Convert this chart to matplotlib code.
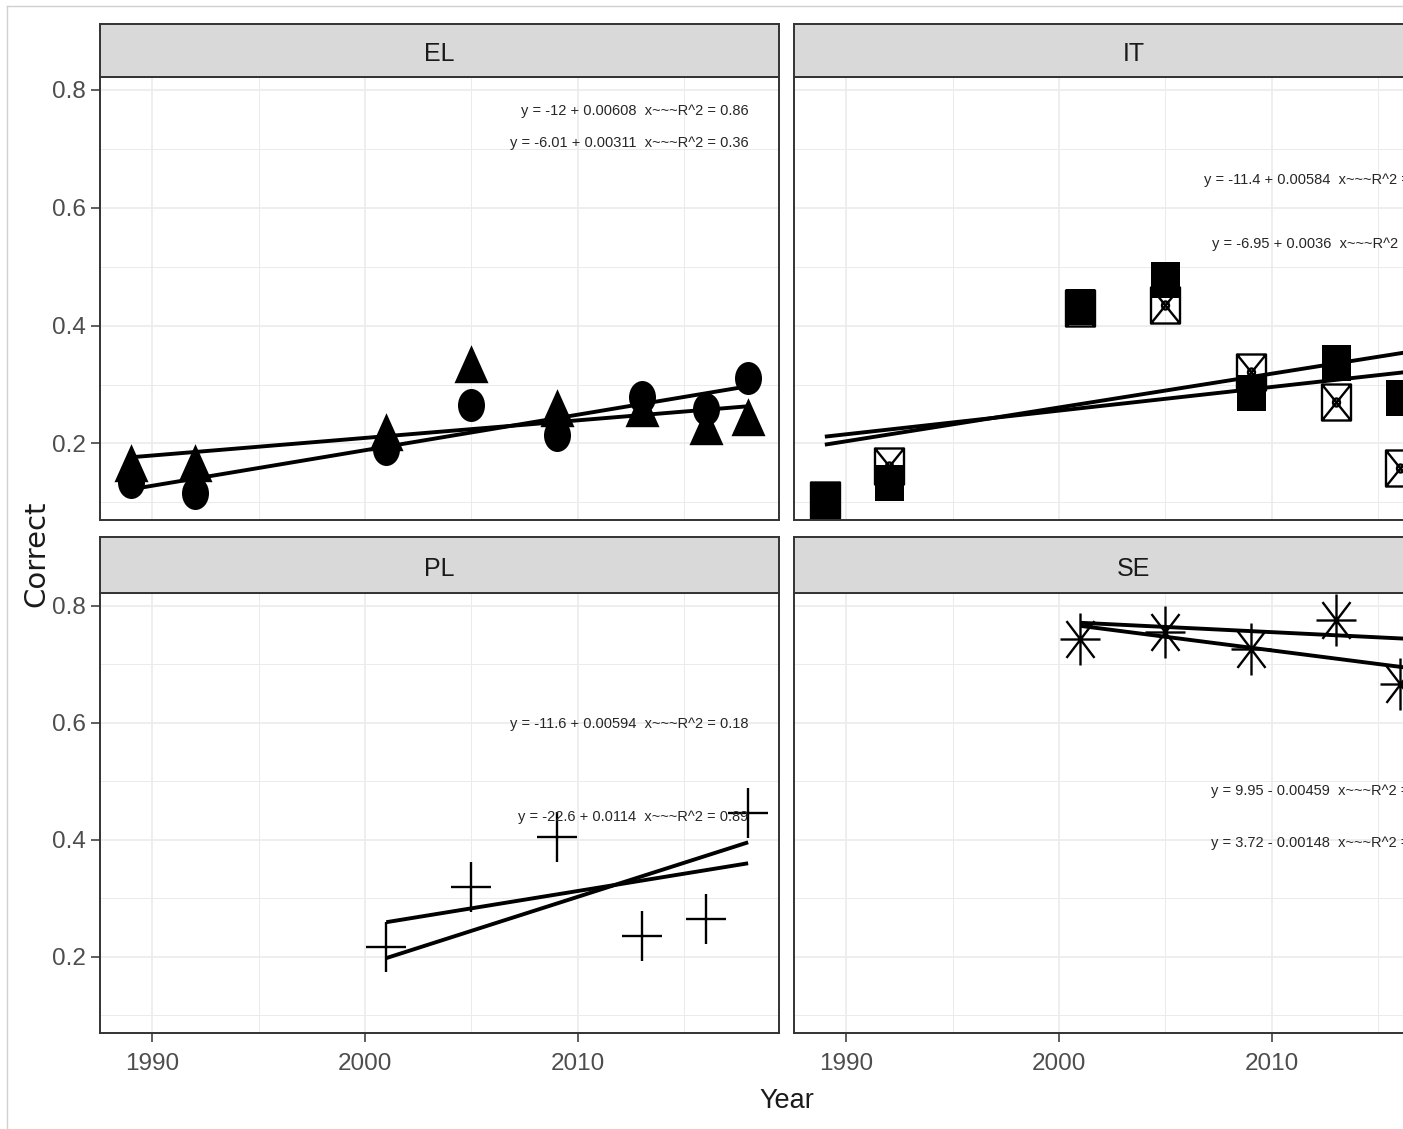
import matplotlib
matplotlib.use("Agg")
import matplotlib.pyplot as plt
import numpy as np
from matplotlib.path import Path
from matplotlib.transforms import Affine2D
from matplotlib.lines import Line2D
from matplotlib.ticker import MultipleLocator, FormatStrFormatter

plt.rcParams['font.family'] = ['Liberation Sans', 'DejaVu Sans']

W, H, DPI = 1403, 1129, 100

# ---- data ----
years_long = [1989, 1992, 2001, 2005, 2009, 2013, 2016, 2018]
years_short = [2001, 2005, 2009, 2013, 2016, 2018]

el_circle = [0.135, 0.115, 0.19, 0.265, 0.215, 0.278, 0.258, 0.311]
el_triangle = [0.157, 0.156, 0.21, 0.325, 0.25, 0.25, 0.22, 0.235]

it_square = [0.104, 0.133, 0.432, 0.478, 0.285, 0.336, 0.277, 0.29]
it_boxed = [0.104, 0.162, 0.43, 0.435, 0.321, 0.27, 0.159, 0.337]

pl_plus = [0.217, 0.32, 0.405, 0.235, 0.265, 0.446]
pl_hidden = [0.19, 0.26, 0.29, 0.32, 0.39, 0.39]

se_star = [0.744, 0.756, 0.727, 0.776, 0.666, 0.665]
se_hidden = [0.775, 0.755, 0.765, 0.745, 0.745, 0.742]

el_labels = ["y = -12 + 0.00608  x~~~R^2 = 0.86", "y = -6.01 + 0.00311  x~~~R^2 = 0.36"]
it_labels = ["y = -11.4 + 0.00584  x~~~R^2 = 0.22", "y = -6.95 + 0.0036  x~~~R^2 = 0.11"]
pl_labels = ["y = -11.6 + 0.00594  x~~~R^2 = 0.18", "y = -22.6 + 0.0114  x~~~R^2 = 0.89"]
se_labels = ["y = 9.95 - 0.00459  x~~~R^2 = 0.52", "y = 3.72 - 0.00148  x~~~R^2 = 0.61"]


# ---- marker shapes (pixel units, the picture is stretched vertically) ----
M, L, C = Path.MOVETO, Path.LINETO, Path.CLOSEPOLY

def marker(path):
    r = np.abs(path.vertices).max()
    return path, 2 * r * 72 / DPI

circle_m = marker(Path.unit_circle().transformed(Affine2D().scale(13.5, 16.5)))
tri_m = marker(Path([(0, 25.3), (17, -12.7), (-17, -12.7), (0, 25.3)], [M, L, L, C]))
sq = [(-14.5, -18), (14.5, -18), (14.5, 18), (-14.5, 18), (-14.5, -18)]
square_m = marker(Path(sq, [M, L, L, L, C]))
boxed_m = marker(Path.make_compound_path(
    Path(sq, [M, L, L, L, C]),
    Path([(-14.5, -18), (14.5, 18)], [M, L]),
    Path([(-14.5, 18), (14.5, -18)], [M, L]),
    Path.unit_circle().transformed(Affine2D().scale(3.5, 4)),
))
plus_m = marker(Path([(-20, 0), (20, 0), (0, -25), (0, 25)], [M, L, M, L]))
star_m = marker(Path([(-20, 0), (20, 0), (0, -26), (0, 26),
                      (-14, -18.4), (14, 18.4), (-14, 18.4), (14, -18.4)],
                     [M, L, M, L, M, L, M, L]))

fig = plt.figure(figsize=(W / DPI, H / DPI), dpi=DPI)
fig.patch.set_facecolor('white')


def rect(x0, y0, x1, y1):
    return [x0 / W, 1 - y1 / H, (x1 - x0) / W, (y1 - y0) / H]


def panel(x0, y0, x1, y1, s0, name, left, bottom):
    ax = fig.add_axes(rect(x0, y0, x1, y1))
    ax.set_xlim(1987.55, 2019.45)
    ax.set_ylim(0.070, 0.822)
    ax.xaxis.set_major_locator(MultipleLocator(10))
    ax.xaxis.set_minor_locator(MultipleLocator(5))
    ax.yaxis.set_major_locator(MultipleLocator(0.2))
    ax.yaxis.set_minor_locator(MultipleLocator(0.1))
    ax.yaxis.set_major_formatter(FormatStrFormatter('%.1f'))
    ax.grid(which='major', color='#EBEBEB', linewidth=1.2)
    ax.grid(which='minor', color='#EBEBEB', linewidth=0.7)
    ax.set_axisbelow(True)
    for sp in ax.spines.values():
        sp.set_color('#333333')
        sp.set_linewidth(1.4)
    ax.tick_params(which='minor', length=0)
    ax.tick_params(which='major', length=6.5, width=1.1, color='#333333',
                   labelcolor='#4D4D4D', labelsize=17.5)
    ax.tick_params(axis='y', pad=4, left=left, labelleft=left)
    ax.tick_params(axis='x', pad=8, bottom=bottom, labelbottom=bottom)

    st = fig.add_axes(rect(x0, s0, x1, y0))
    st.set_facecolor('#D9D9D9')
    st.set_xticks([])
    st.set_yticks([])
    for sp in st.spines.values():
        sp.set_color('#333333')
        sp.set_linewidth(1.4)
    st.text(0.5, 0.43, name, ha='center', va='center', fontsize=18,
            color='#1A1A1A', transform=st.transAxes)
    return ax


def points(ax, x, y, mk, filled, z):
    path, ms = mk
    if filled:
        ax.plot(x, y, ls='none', marker=path, ms=ms, mfc='black', mec='black',
                mew=0, zorder=z)
    else:
        ax.plot(x, y, ls='none', marker=path, ms=ms, mfc='none', mec='black',
                mew=1.7, zorder=z)


def fit_line(ax, x, y):
    x = np.asarray(x, float)
    b, a = np.polyfit(x, np.asarray(y, float), 1)
    xs = np.array([x.min(), x.max()])
    ax.plot(xs, a + b * xs, color='black', lw=2.8, zorder=5,
            solid_capstyle='butt')


def eq_labels(ax, labels, ys):
    for lab, yy in zip(labels, ys):
        ax.text(2018, yy, lab, ha='right', va='center', fontsize=10.5,
                color='#262626', zorder=6)


ax_el = panel(100, 77, 779, 520, 24, 'EL', True, False)
ax_it = panel(794, 77, 1473, 520, 24, 'IT', False, False)
ax_pl = panel(100, 593, 779, 1033, 537, 'PL', True, True)
ax_se = panel(794, 593, 1473, 1033, 537, 'SE', False, True)

# EL
points(ax_el, years_long, el_circle, circle_m, True, 3)
points(ax_el, years_long, el_triangle, tri_m, True, 3)
fit_line(ax_el, years_long, el_circle)
fit_line(ax_el, years_long, el_triangle)
eq_labels(ax_el, el_labels, [0.764, 0.710])

# IT
points(ax_it, years_long, it_boxed, boxed_m, False, 2)
points(ax_it, years_long, it_square, square_m, True, 3)
fit_line(ax_it, years_long, it_square)
fit_line(ax_it, years_long, it_boxed)
eq_labels(ax_it, it_labels, [0.647, 0.539])

# PL (second series has no visible symbol)
points(ax_pl, years_short, pl_plus, plus_m, False, 3)
fit_line(ax_pl, years_short, pl_plus)
fit_line(ax_pl, years_short, pl_hidden)
eq_labels(ax_pl, pl_labels, [0.598, 0.439])

# SE (second series has no visible symbol)
points(ax_se, years_short, se_star, star_m, False, 3)
fit_line(ax_se, years_short, se_star)
fit_line(ax_se, years_short, se_hidden)
eq_labels(ax_se, se_labels, [0.484, 0.395])

fig.text(787 / W, 1 - 1101 / H, 'Year', ha='center', va='center',
         fontsize=19.5, color='#1A1A1A')
fig.text(36 / W, 1 - 554 / H, 'Correct', rotation=90, ha='center', va='center',
         fontsize=21, color='#1A1A1A', family=['DejaVu Sans'])

# thin frame of the screenshot
fig.add_artist(Line2D([7 / W, 7 / W], [0, 1 - 6 / H], color='#D0D0D0', lw=1,
                      transform=fig.transFigure))
fig.add_artist(Line2D([7 / W, 1], [1 - 6 / H, 1 - 6 / H], color='#D0D0D0', lw=1,
                      transform=fig.transFigure))

fig.savefig('out.png', dpi=DPI)
